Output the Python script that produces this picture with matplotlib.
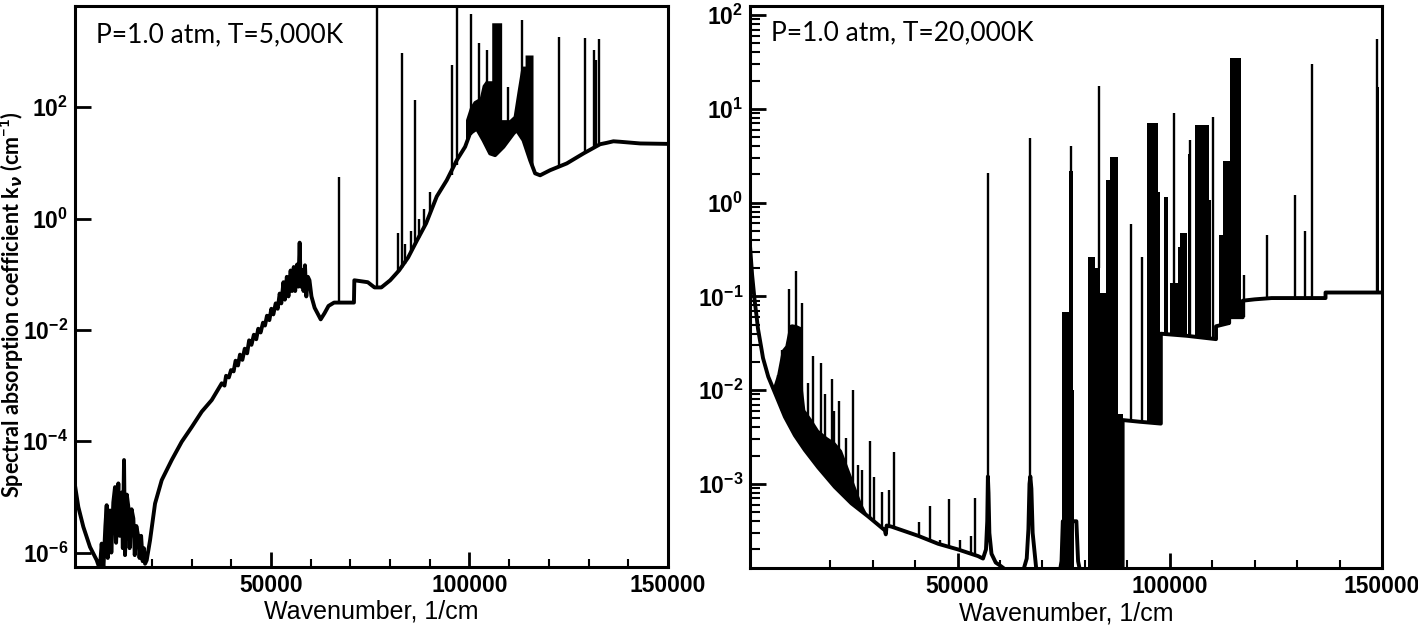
import matplotlib
matplotlib.use("Agg")
import matplotlib.pyplot as plt
from matplotlib.ticker import (FixedLocator, LogLocator, NullFormatter,
                               LogFormatterSciNotation, StrMethodFormatter)

plt.rcParams['font.family'] = ['Liberation Sans', 'DejaVu Sans']
plt.rcParams['font.weight'] = 'bold'
plt.rcParams['mathtext.fontset'] = 'custom'
plt.rcParams['mathtext.rm'] = 'Lato:bold'
plt.rcParams['mathtext.it'] = 'DejaVu Sans:italic:bold'
plt.rcParams['mathtext.bf'] = 'Lato:bold'

# ---------------- P=1 atm, T=5,000 K ----------------
cont5_x = [655, 1490, 2750, 4430, 6120, 6900, 7370, 7800, 8300, 8630, 8900, 9470, 9800,
           10300, 10730, 11000, 11570, 11900, 12400, 12700, 13000, 13250, 13700, 14090,
           14400, 14900, 15350, 15700, 16100, 16600, 16900, 17300, 17700, 18000, 18300,
           18710, 19550, 20810, 22490, 25010, 27530, 30050, 32570, 35090, 37610, 38300,
           38700, 39400, 39950, 40600, 41100, 41700, 42200, 42800, 43400, 44000, 44500,
           45100, 45700, 46300, 46800, 47400, 48000, 48500, 49000, 49600, 50100, 50600,
           51200, 51700, 52200, 52600, 53150, 53500, 54000, 54400, 54960, 55300, 55750,
           56100, 56600, 56900, 57230, 57500, 57900, 58200, 58570, 58900, 59300, 59700,
           60200, 61000, 62530, 63500, 64500, 65900, 70900, 71000, 74390, 76080, 77800,
           80030, 82300, 84540, 86810, 89070, 91760, 94280, 96800, 98900, 100150, 101840,
           103500, 105200, 106450, 108550, 111070, 111900, 113580, 115270, 116530, 117790,
           120300, 124500, 128700, 132900, 134600, 136250, 138000, 143000, 150000]
cont5_y = [1.6e-5, 6.6e-6, 2.9e-6, 1.26e-6, 7.3e-7, 5e-7, 1.45e-6, 5e-7, 3e-6, 7.1e-6, 8e-7,
           5.7e-6, 1e-6, 8e-6, 1.5e-5, 1.5e-6, 1.75e-5, 2e-6, 1.2e-5, 1.2e-6, 4.6e-5, 9e-7,
           1.1e-5, 6.6e-6, 1.2e-6, 6e-6, 4.1e-6, 9e-7, 3e-6, 1.9e-6, 8e-7, 2e-6, 7e-7,
           1.2e-6, 6.3e-7, 7.3e-7, 1.66e-6, 7.6e-6, 2e-5, 4.6e-5, 9.8e-5, 1.8e-4, 3.4e-4,
           5.5e-4, 1.1e-3, 1.0e-3, 1.5e-3, 1.4e-3, 1.9e-3, 1.8e-3, 2.8e-3, 2.3e-3, 3.6e-3,
           2.9e-3, 4.6e-3, 3.8e-3, 6.5e-3, 5.4e-3, 8.2e-3, 6.8e-3, 0.0105, 0.009, 0.0135,
           0.012, 0.018, 0.015, 0.024, 0.019, 0.03, 0.024, 0.045, 0.03, 0.072, 0.035, 0.09,
           0.04, 0.117, 0.05, 0.135, 0.05, 0.15, 0.06, 0.37, 0.06, 0.12, 0.05, 0.145, 0.04,
           0.09, 0.078, 0.04, 0.025, 0.0155, 0.02, 0.027, 0.031, 0.031, 0.078, 0.072, 0.058,
           0.058, 0.078, 0.118, 0.2, 0.41, 0.82, 2.5, 4.9, 11.2, 19.5, 34, 41.5, 25.7, 14.8,
           13.8, 19.5, 34, 39, 25.7, 11.2, 6.5, 6.0, 7.4, 9.8, 14.8, 21.7, 23, 24.5, 24,
           22.4, 22]

lines5_x = [67050, 76650, 82000, 82950, 83800, 85200, 86300, 87200, 88500, 90000, 95540,
            96960, 100400, 102400, 104350, 109650, 113200, 122600, 129100, 131400, 131900,
            132700]
lines5_base = [0.031, 0.06, 0.11, 0.13, 0.15, 0.25, 0.35, 0.45, 0.7, 1.2, 6, 9, 32, 38, 20,
               25, 30, 8.5, 15, 19, 20, 21]
lines5_top = [5.5, 1e5, 0.55, 940, 0.35, 0.6, 135, 1.0, 1.5, 3, 575, 1e5, 4700, 1400, 1070,
              235, 3700, 1860, 1740, 1070, 700, 1660]

band5_x = [99000, 100000, 101000, 102500, 103200, 104000, 105000, 105600, 105600, 108100,
           108100, 110000, 111000, 112000, 113000, 114000, 114000, 116000, 116000]
band5_low = [20, 33, 38, 38, 28, 20, 15, 14.5, 14.5, 18, 18, 28, 34, 38, 30, 22, 22, 8, 8]
band5_top = [60, 100, 130, 150, 250, 300, 300, 300, 3300, 3300, 60, 60, 70, 200, 550, 550,
             870, 870, 8]

# ---------------- P=1 atm, T=20,000 K ----------------
cont20_x = [1100, 1600, 2190, 2660, 2990, 3840, 4170, 5410, 7370, 9320, 11670, 14020, 17180,
            21080, 25010, 28940, 32870, 33100, 33300, 34470, 40700, 45420, 50120, 54820,
            56000, 56700, 57000, 57150, 57300, 57500, 58000, 59000, 60000, 61500, 65500,
            66300, 66700, 66950, 67150, 67400, 67700, 68500, 69000, 74000, 74500, 74800,
            78000, 78400, 79000, 88900, 88900, 93000, 97900, 97900, 104000, 110900, 110900,
            114000, 114000, 117200, 117200, 120000, 124000, 136700, 136700, 150000]
cont20_y = [0.35, 0.17, 0.091, 0.061, 0.045, 0.027, 0.022, 0.0139, 8.5e-3, 5.2e-3, 3.3e-3,
            2.3e-3, 1.5e-3, 9.3e-4, 6.2e-4, 4.5e-4, 3.2e-4, 2.9e-4, 3.6e-4, 3.5e-4, 2.8e-4,
            2.3e-4, 2e-4, 1.7e-4, 1.6e-4, 2e-4, 4e-4, 1.2e-3, 8e-4, 3e-4, 1.8e-4, 1.45e-4,
            1.35e-4, 1.2e-4, 1.2e-4, 1.6e-4, 3.3e-4, 1e-3, 1.2e-3, 8.9e-4, 3e-4, 1.3e-4,
            1.1e-4, 1.1e-4, 1.5e-4, 4e-4, 4e-4, 1.5e-4, 1.1e-4, 1.1e-4, 4.8e-3, 4.6e-3,
            4.4e-3, 0.04, 0.038, 0.035, 0.048, 0.052, 0.06, 0.06, 0.09, 0.093, 0.096, 0.096,
            0.11, 0.11]

band20_x = [6500, 7370, 8500, 9320, 10300, 10900, 12000, 13250, 13500, 14020, 15500, 17180,
            19140, 21080, 22650, 25010, 27370, 28940]
band20_low = [0.0107, 8.5e-3, 6e-3, 5.2e-3, 4.2e-3, 3.7e-3, 3.0e-3, 2.5e-3, 2.45e-3, 2.3e-3,
              1.9e-3, 1.5e-3, 1.2e-3, 9.3e-4, 8e-4, 6.2e-4, 5.2e-4, 4.5e-4]
band20_top = [0.011, 0.0146, 0.027, 0.03, 0.05, 0.051, 0.05, 0.047, 0.01, 6.2e-3, 5e-3,
              3.8e-3, 3.2e-3, 2.8e-3, 2.3e-3, 1.2e-3, 6.2e-4, 4.5e-4]

lines20_x = [7600, 8540, 10260, 11840, 13250, 14800, 16000, 17950, 18800, 20310, 21000, 22120,
             23840, 25410, 26500, 27500, 29320, 30350, 32230, 33800, 35050, 40850, 43440,
             45790, 48000, 50500, 53250, 54030, 57200, 67000, 76650, 83240, 90880, 93470,
             100920, 104700, 110210, 117380, 122860, 129440, 131850, 133600, 148840]
lines20_base = [8e-3, 6e-3, 4.5e-3, 3.3e-3, 2.6e-3, 2.1e-3, 1.8e-3, 1.4e-3, 1.3e-3, 1.05e-3,
                9.5e-4, 8.5e-4, 7e-4, 6e-4, 5.5e-4, 5e-4, 4.4e-4, 4e-4, 3.4e-4, 3.5e-4,
                3.4e-4, 2.8e-4, 2.5e-4, 2.3e-4, 2.1e-4, 2e-4, 1.8e-4, 1.75e-4, 1.2e-3,
                1.2e-3, 2.2, 0.2, 4.8e-3, 4.6e-3, 0.04, 0.038, 0.036, 0.06, 0.096, 0.096,
                0.096, 0.096, 0.11]
lines20_top = [0.0146, 0.027, 0.12, 0.187, 0.085, 0.012, 0.023, 0.0195, 0.009, 0.013, 0.006,
               7.6e-3, 3.1e-3, 0.01, 1.6e-3, 1.4e-3, 2.9e-3, 1.2e-3, 8.3e-4, 8.7e-4, 2.2e-3,
               3.9e-4, 5.8e-4, 2.5e-4, 6.9e-4, 2.5e-4, 2.8e-4, 7.1e-4, 2.05, 4.84, 4.0, 17.5,
               0.59, 0.26, 9.1, 4.6, 8.1, 0.17, 0.45, 1.2, 0.5, 30, 56]

blk20_x0 = [74700, 76300, 77100, 80640, 82460, 83640, 85060, 86000, 87730, 94650, 97150,
            98750, 100000, 101900, 102490, 104400, 106040, 109200, 111500, 112450, 114090,
            122650, 129250, 148550]
blk20_x1 = [76300, 77100, 77500, 82460, 83640, 85060, 86000, 87730, 88900, 97150, 97800,
            99540, 101900, 102490, 104060, 104900, 109180, 109700, 112450, 114090, 116830,
            123050, 129650, 149200]
blk20_base = [1e-4, 1e-4, 1e-4, 1e-4, 1e-4, 1e-4, 1e-4, 1e-4, 1e-4, 4.6e-3, 4.5e-3, 0.04,
              0.04, 0.04, 0.038, 0.038, 0.036, 0.036, 0.048, 0.05, 0.058, 0.096, 0.096, 0.11]
blk20_top = [0.068, 2.2, 0.01, 0.26, 0.2, 0.11, 1.74, 3.1, 5.6e-3, 7.0, 1.3, 1.15, 0.14,
             0.34, 0.48, 3.3, 6.7, 1.07, 0.45, 2.8, 35, 0.3, 0.5, 17]

x_major = [50000, 100000, 150000]
x_minor = [20000, 30000, 40000, 60000, 70000, 80000, 90000, 110000, 120000, 130000, 140000]
y5_major = [1e-6, 1e-4, 1e-2, 1, 1e2]
y20_major = [1e-3, 1e-2, 1e-1, 1, 1e1, 1e2]

fig = plt.figure(figsize=(14.18, 6.26), dpi=100)
ax1 = fig.add_axes([0.0529, 0.0942, 0.4182, 0.8962])
ax2 = fig.add_axes([0.5289, 0.0922, 0.4457, 0.8982])

# left panel
ax1.plot(cont5_x, cont5_y, color='k', lw=2.8)
ax1.fill_between(band5_x, band5_low, band5_top, color='k', lw=0)
ax1.vlines(lines5_x, lines5_base, lines5_top, color='k', lw=1.7)
ax1.set_yscale('log')
ax1.set_xlim(655, 150000)
ax1.set_ylim(5.5e-7, 6600)
ax1.yaxis.set_major_locator(FixedLocator(y5_major))
ax1.yaxis.set_major_formatter(LogFormatterSciNotation())
ax1.yaxis.set_minor_locator(FixedLocator([]))

# right panel
ax2.plot(cont20_x, cont20_y, color='k', lw=2.8)
ax2.fill_between(band20_x, band20_low, band20_top, color='k', lw=0)
ax2.bar(blk20_x0, [t - b for t, b in zip(blk20_top, blk20_base)],
        width=[b - a for a, b in zip(blk20_x0, blk20_x1)], bottom=blk20_base,
        align='edge', color='k', lw=0)
ax2.vlines(lines20_x, lines20_base, lines20_top, color='k', lw=1.7)
ax2.set_yscale('log')
ax2.set_xlim(1100, 150000)
ax2.set_ylim(1.26e-4, 125)
ax2.yaxis.set_major_locator(FixedLocator(y20_major))
ax2.yaxis.set_major_formatter(LogFormatterSciNotation())
ax2.yaxis.set_minor_locator(LogLocator(base=10, subs=range(2, 10)))
ax2.yaxis.set_minor_formatter(NullFormatter())

for ax in (ax1, ax2):
    ax.xaxis.set_major_locator(FixedLocator(x_major))
    ax.xaxis.set_minor_locator(FixedLocator(x_minor))
    ax.xaxis.set_major_formatter(StrMethodFormatter('{x:.0f}'))
    ax.tick_params(which='major', direction='in', length=11, width=2, labelsize=16.5, pad=5)
    ax.tick_params(which='minor', direction='in', length=6, width=1.5)
    ax.tick_params(axis='y', which='major', length=11.5)
    ax.tick_params(axis='y', which='minor', length=7)
    for s in ax.spines.values():
        s.set_linewidth(2.2)
    ax.set_xlabel('Wavenumber, 1/cm', fontsize=18, fontweight='normal', labelpad=2)

fig.text(96 / 1418, 1 - 35 / 626, 'P=1.0 atm, T=5,000K', family='Lato', fontsize=19,
         fontweight='normal', va='center', ha='left')
fig.text(771 / 1418, 1 - 33 / 626, 'P=1.0 atm, T=20,000K', family='Lato', fontsize=19,
         fontweight='normal', va='center', ha='left')
fig.text(12 / 1418, 1 - 305 / 626,
         r'Spectral absorption coefficient k$_{\nu}$ (cm$^{\mathdefault{-1}}$)',
         family='Lato', fontsize=15.5, fontweight='bold', rotation=90,
         ha='center', va='center')

fig.savefig('out.png', dpi=100)
